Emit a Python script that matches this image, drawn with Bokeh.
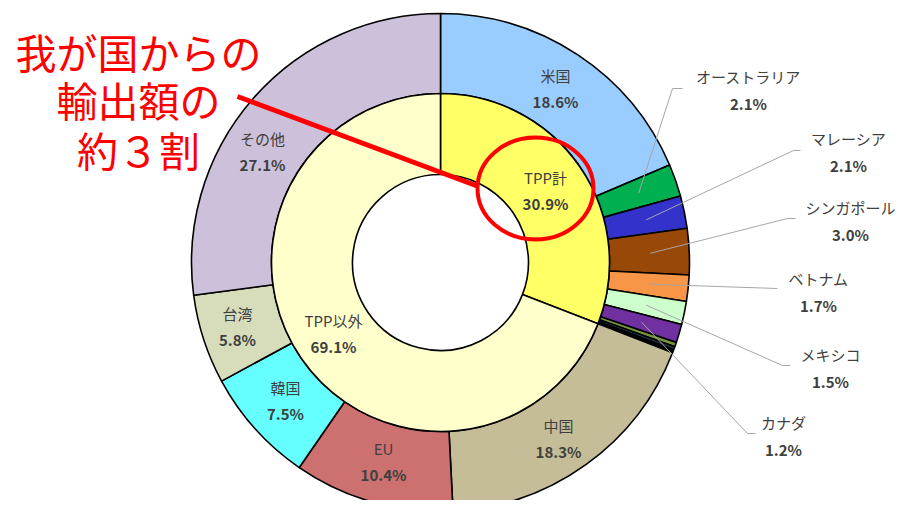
import math
from bokeh.plotting import figure
from bokeh.models import Range1d
from bokeh.core.properties import value
from bokeh.embed import file_html
from bokeh.resources import INLINE

# ---- data ----
outer_names = ["米国", "オーストラリア", "マレーシア", "シンガポール", "ベトナム", "メキシコ", "カナダ",
               "ニュージーランド", "チリ", "ペルー", "ブルネイ",
               "中国", "EU", "韓国", "台湾", "その他"]
outer_values = [18.6, 2.1, 2.1, 3.0, 1.7, 1.5, 1.2, 0.3, 0.2, 0.1, 0.1, 18.3, 10.4, 7.5, 5.8, 27.1]
outer_colors = ["#99CCFF", "#00B050", "#3333CC", "#984807", "#F79646", "#CCFFCC", "#7030A0",
                "#77933C", "#1F3A4A", "#31859C", "#0F243E",
                "#C4BD97", "#CC7070", "#66FFFF", "#D7DDBB", "#CCC0DA"]
inner_names = ["TPP計", "TPP以外"]
inner_values = [30.9, 69.1]
inner_colors = ["#FFFF66", "#FFFFCC"]

annotation_lines = ["我が国からの", "輸出額の", "約３割"]

# label layout (page pixel positions)
inside_labels = {
    "米国": (555, 88), "中国": (558, 438), "EU": (383, 461), "韓国": (285, 400),
    "台湾": (237, 326), "その他": (262, 151),
}
inner_label_pos = {"TPP計": (545, 190), "TPP以外": (333, 333)}
outside_labels = {
    "オーストラリア": ((748, 89), (672, 88), (682, 88)),
    "マレーシア": ((848, 151), (793, 150), (800, 150)),
    "シンガポール": ((850, 220), (787, 218), (795, 218)),
    "ベトナム": ((818, 291), (777, 288), (777, 288)),
    "メキシコ": ((830, 367), (782, 365), (790, 365)),
    "カナダ": ((783, 435), (747, 433), (755, 433)),
}

CX, CY = 440, 262
def P(X, Y):
    return X - CX, CY - Y

R_HOLE, R_MID, R_OUT = 88, 169, 249
FONT = value("Noto Sans CJK JP")

W, H = 915, 500
p = figure(width=W, height=H, output_backend="svg", toolbar_location=None,
           x_range=Range1d(-CX, W - CX), y_range=Range1d(CY - H, CY),
           min_border=0)
p.axis.visible = False
p.grid.visible = False
p.outline_line_color = None
p.background_fill_color = "white"

def wedges(vals):
    total = sum(vals)
    starts, ends, mids = [], [], []
    c = 0.0
    for v in vals:
        a0 = math.pi / 2 - 2 * math.pi * c / total
        c += v
        a1 = math.pi / 2 - 2 * math.pi * c / total
        starts.append(a0); ends.append(a1); mids.append((a0 + a1) / 2)
    return starts, ends, mids

o_s, o_e, o_m = wedges(outer_values)
i_s, i_e, i_m = wedges(inner_values)

p.annular_wedge(x=0, y=0, inner_radius=R_MID, outer_radius=R_OUT,
                start_angle=o_s, end_angle=o_e, direction="clock",
                fill_color=outer_colors, line_color="black", line_width=1.6)
p.annular_wedge(x=0, y=0, inner_radius=R_HOLE, outer_radius=R_MID,
                start_angle=i_s, end_angle=i_e, direction="clock",
                fill_color=inner_colors, line_color="black", line_width=1.6)

def pct(v):
    return f"{v:.1f}%"

LBL = "#404040"
FS = "15px"

def label(x, y, name, v, dy1=13, dy2=13):
    p.text(x=[x], y=[y + dy1], text=[name], text_font=FONT, text_font_size=FS,
           text_color=LBL, text_align="center", text_baseline="middle")
    p.text(x=[x], y=[y - dy2], text=[pct(v)], text_font=FONT, text_font_size=FS,
           text_font_style="bold", text_color=LBL, text_align="center", text_baseline="middle")

for name, (X, Y) in inside_labels.items():
    v = outer_values[outer_names.index(name)]
    label(*P(X, Y), name, v)
for name, (X, Y) in inner_label_pos.items():
    v = inner_values[inner_names.index(name)]
    label(*P(X, Y), name, v)

# outside labels with leader lines
for name, ((X, Y), e1, e2) in outside_labels.items():
    idx = outer_names.index(name)
    v = outer_values[idx]
    m = o_m[idx]
    sx, sy = 210 * math.cos(m), 210 * math.sin(m)
    x1, y1 = P(*e1)
    x2, y2 = P(*e2)
    p.line(x=[sx, x1, x2], y=[sy, y1, y2], line_color="#A6A6A6", line_width=1)
    label(*P(X, Y), name, v, 13, 14)

# red annotation
ys = [50, 98, 148]
for t, Y in zip(annotation_lines, ys):
    x, y = P(138, Y)
    p.text(x=[x], y=[y], text=[t], text_font=FONT, text_font_size="41px",
           text_color="#FF0000", text_align="center", text_baseline="middle")

lx0, ly0 = P(237, 96)
lx1, ly1 = P(478, 186)
p.line(x=[lx0, lx1], y=[ly0, ly1], line_color="#FF0000", line_width=5)
ex, ey = P(535, 188)
p.ellipse(x=[ex], y=[ey], width=116, height=102, fill_color=None,
          line_color="#FF0000", line_width=4)

open("out.html", "w").write(file_html(p, INLINE))
